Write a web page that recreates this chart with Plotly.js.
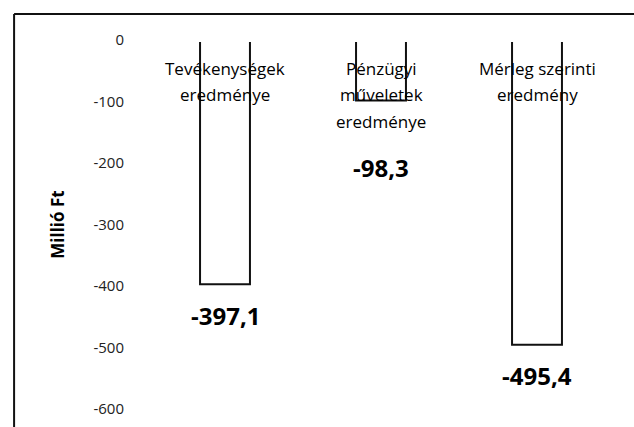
<!DOCTYPE html>
<html>
<head>
<meta charset="utf-8">
<script src="https://cdn.plot.ly/plotly-3.0.1.min.js"></script>
<style>html,body{margin:0;padding:0;background:#fff;}#chart{width:634px;height:427px;}</style>
</head>
<body>
<div id="chart"></div>
<script>
const categories = ["Tevékenységek eredménye", "Pénzügyi műveletek eredménye", "Mérleg szerinti eredmény"];
const categoryLines = [["Tevékenységek", "eredménye"], ["Pénzügyi", "műveletek", "eredménye"], ["Mérleg szerinti", "eredmény"]];
const values = [-397.1, -98.3, -495.4];
const yTicks = [0, -100, -200, -300, -400, -500, -600];
const yTitle = "Millió Ft";

const FONT = "Open Sans, DejaVu Sans, sans-serif";
const fmt = v => v.toFixed(1).replace('.', ',');
// vertical offsets (px) of the value labels below the bar ends
const labelShift = [-31, -67, -31];

const annotations = [];
categoryLines.forEach((lines, i) => {
  lines.forEach((ln, j) => {
    annotations.push({
      x: categories[i], y: 0, xref: 'x', yref: 'y',
      text: ln, showarrow: false, yanchor: 'middle', xanchor: 'center',
      yshift: -(28 + j * 26.5),
      font: {family: FONT, size: 17, color: '#000'}
    });
  });
});
values.forEach((v, i) => {
  annotations.push({
    x: categories[i], y: v, xref: 'x', yref: 'y',
    text: '<b>' + fmt(v) + '</b>', showarrow: false, yanchor: 'middle', xanchor: 'center',
    yshift: labelShift[i],
    font: {family: FONT, size: 24, color: '#000'}
  });
});

const trace = {
  type: 'bar', x: categories, y: values, width: 0.32,
  marker: {color: '#ffffff', line: {color: '#111', width: 2}},
  hoverinfo: 'none'
};

const layout = {
  width: 634, height: 427,
  margin: {l: 147, r: 19, t: 40, b: 18, pad: 0},
  paper_bgcolor: '#fff', plot_bgcolor: '#fff',
  showlegend: false,
  xaxis: {showticklabels: false, showgrid: false, zeroline: false, showline: false, ticks: '', range: [-0.5, 2.5]},
  yaxis: {
    range: [-600, 0], tickvals: yTicks, ticktext: yTicks.map(String),
    showgrid: false, zeroline: false, showline: false, ticks: '',
    ticklabelstandoff: 22,
    tickfont: {family: FONT, size: 15, color: '#222'},
    title: {text: '<b>' + yTitle + '</b>', font: {family: FONT, size: 17, color: '#000'}, standoff: 24}
  },
  annotations: annotations,
  shapes: [
    {type: 'line', xref: 'paper', yref: 'y', x0: 0, x1: 1, y0: 0, y1: 0, layer: 'above', line: {color: '#fff', width: 4}},
    {type: 'line', xref: 'paper', yref: 'paper', x0: -0.284, x1: 1.1, y0: 1.0705, y1: 1.0705, line: {color: '#111', width: 2}},
    {type: 'line', xref: 'paper', yref: 'paper', x0: -0.284, x1: -0.284, y0: 1.0705, y1: -0.2, line: {color: '#111', width: 2}}
  ]
};

Plotly.newPlot('chart', [trace], layout, {displayModeBar: false, staticPlot: true});
</script>
</body>
</html>
